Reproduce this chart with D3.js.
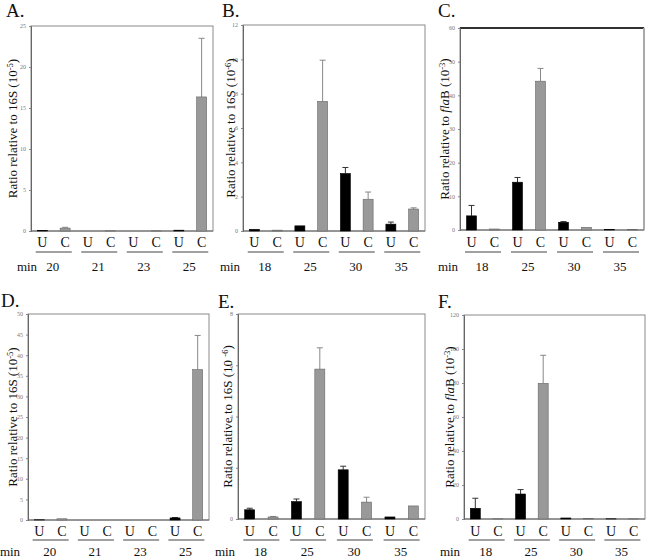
<!DOCTYPE html>
<html><head><meta charset="utf-8">
<script src="https://cdn.jsdelivr.net/npm/d3@7"></script>
<style>
html,body{margin:0;padding:0;background:#fff;}
svg text{font-family:"Liberation Serif","Times New Roman",serif !important;}
</style></head>
<body>
<svg id="chart" width="648" height="558"></svg>
<script>
// ---------- DATA ----------
const panelLetters = ["A.", "B.", "C.", "D.", "E.", "F."];
const groupsA = ["20", "21", "23", "25"];
const groupsB = ["18", "25", "30", "35"];
const barKinds = ["U", "C"];

const yTitlesMain = ["Ratio relative to 16S (10", "Ratio relative to 16S (10", "Ratio relative to ", "Ratio relative to 16S (10", "Ratio relative to 16S (10 ", "Ratio relative to "];
const yTitlesExp = ["-5", "-6", "-3", "-5", "-6", "-3"];

const yMax = [25, 12, 60, 50, 8, 120];
const yStep = [5, 2, 10, 5, 2, 20];

const uA = [0.05, 0.0, 0.0, 0.1],   uErrA = [null, null, null, null];
const cA = [0.35, 0.02, 0.02, 16.35], cErrA = [0.45, null, null, 23.5];
const uB = [0.1, 0.3, 3.35, 0.4],   uErrB = [null, null, 3.7, 0.52];
const cB = [0.05, 7.55, 1.85, 1.28], cErrB = [null, 9.95, 2.27, 1.35];
const uC = [4.2, 14.2, 2.3, 0.2],   uErrC = [7.3, 15.6, 2.5, null];
const cC = [0.3, 44.2, 0.8, 0.2],   cErrC = [null, 48.0, null, null];
const uD = [0.05, 0.0, 0.0, 0.5],   uErrD = [null, null, null, 0.6];
const cD = [0.3, 0.0, 0.0, 36.5],   cErrD = [null, null, null, 44.8];
const uE = [0.36, 0.68, 1.92, 0.08], uErrE = [0.42, 0.78, 2.06, null];
const cE = [0.08, 5.85, 0.66, 0.51], cErrE = [0.1, 6.68, 0.85, null];
const uF = [6.3, 14.7, 0.6, 0.1],   uErrF = [12.2, 17.3, null, null];
const cF = [0.1, 79.8, 0.3, 0.1],   cErrF = [null, 96.3, null, null];

// ---------- LAYOUT ----------
const layout = [
  {l: 31,  r: 213, t: 26,  b: 231, lx: 6,   ly: 17,  tx: 13,  mx: 27,  groups: groupsA, u: uA, ue: uErrA, c: cA, ce: cErrA, row: 0},
  {l: 243, r: 425, t: 25,  b: 231, lx: 222, ly: 17,  tx: 231, mx: 230, groups: groupsB, u: uB, ue: uErrB, c: cB, ce: cErrB, row: 0},
  {l: 460, r: 644, t: 28,  b: 230, lx: 438, ly: 17,  tx: 445, mx: 448, groups: groupsB, u: uC, ue: uErrC, c: cC, ce: cErrC, row: 0, fla: true, topBlack: true},
  {l: 28,  r: 209, t: 314, b: 520, lx: 1,   ly: 307, tx: 13,  mx: 10,  groups: groupsA, u: uD, ue: uErrD, c: cD, ce: cErrD, row: 1},
  {l: 238, r: 425, t: 314, b: 519, lx: 218, ly: 308, tx: 228, mx: 225, groups: groupsB, u: uE, ue: uErrE, c: cE, ce: cErrE, row: 1},
  {l: 464, r: 645, t: 315, b: 519, lx: 438, ly: 308, tx: 450, mx: 450, groups: groupsB, u: uF, ue: uErrF, c: cF, ce: cErrF, row: 1, fla: true}
];
const rowText = [{uc: 247, line: 252, min: 271}, {uc: 536, line: 540, min: 556}];

const svg = d3.select("#chart");
const SERIF = "Liberation Serif, Times New Roman, serif";

layout.forEach((p, i) => {
  const g = svg.append("g");
  const x = d3.scaleBand().domain(p.groups).range([p.l, p.r]).padding(0);
  const xi = d3.scalePoint().domain(barKinds).range([0, x.bandwidth()]).padding(0.5);
  const y = d3.scaleLinear().domain([0, yMax[i]]).range([p.b, p.t]);
  const bw = 10;

  // frame
  g.append("rect").attr("x", p.l).attr("y", p.t).attr("width", p.r - p.l).attr("height", p.b - p.t)
    .attr("fill", "none").attr("stroke", "#8a8a8a").attr("stroke-width", 1);
  if (p.topBlack) {
    g.append("line").attr("x1", p.l).attr("x2", p.r).attr("y1", p.t).attr("y2", p.t).attr("stroke", "#000").attr("stroke-width", 1.5);
    g.append("line").attr("x1", p.r).attr("x2", p.r).attr("y1", p.t).attr("y2", p.b).attr("stroke", "#aaa").attr("stroke-width", 2);
  }

  // y axis
  const ticks = d3.range(0, yMax[i] + 1e-9, yStep[i]);
  const ax = g.append("g").attr("transform", `translate(${p.l},0)`)
    .call(d3.axisLeft(y).tickValues(ticks).tickSize(2).tickPadding(3).tickFormat(d3.format("d")));
  ax.attr("font-family", SERIF);
  ax.select(".domain").attr("stroke", "#666");
  ax.selectAll(".tick line").attr("stroke", "#888");
  ax.selectAll(".tick text").attr("font-size", 6).attr("fill", "#777");
  // x baseline
  g.append("line").attr("x1", p.l).attr("x2", p.r).attr("y1", p.b).attr("y2", p.b).attr("stroke", "#666");

  // bars
  const rows = [];
  p.groups.forEach((grp, k) => {
    rows.push({grp, kind: "U", v: p.u[k], e: p.ue[k]});
    rows.push({grp, kind: "C", v: p.c[k], e: p.ce[k]});
  });
  const cx = d => x(d.grp) + xi(d.kind);
  rows.filter(d => d.e != null).forEach(d => {
    const col = d.kind === "U" ? "#333" : "#888";
    g.append("line").attr("x1", cx(d)).attr("x2", cx(d)).attr("y1", y(d.v)).attr("y2", y(d.e)).attr("stroke", col).attr("stroke-width", 1);
    g.append("line").attr("x1", cx(d) - 3).attr("x2", cx(d) + 3).attr("y1", y(d.e)).attr("y2", y(d.e)).attr("stroke", col).attr("stroke-width", 1);
  });
  g.selectAll("rect.bar").data(rows).join("rect").attr("class", "bar")
    .attr("x", d => cx(d) - bw / 2).attr("width", bw)
    .attr("y", d => y(d.v)).attr("height", d => Math.max(0, p.b - y(d.v)))
    .attr("fill", d => d.kind === "U" ? "#000" : "#999")
    .attr("stroke", d => d.kind === "U" ? "#000" : "#666").attr("stroke-width", 0.6);

  // U / C labels, underlines, min labels
  const rt = rowText[p.row];
  rows.forEach(d => {
    g.append("text").attr("x", cx(d)).attr("y", rt.uc).attr("text-anchor", "middle")
      .attr("font-family", SERIF).attr("font-size", 14).attr("fill", "#111").text(d.kind);
  });
  p.groups.forEach(grp => {
    const c0 = x(grp) + x.bandwidth() / 2;
    g.append("line").attr("x1", c0 - 18).attr("x2", c0 + 18).attr("y1", rt.line).attr("y2", rt.line)
      .attr("stroke", "#444").attr("stroke-width", 1.2);
    g.append("text").attr("x", c0 - 1).attr("y", rt.min).attr("text-anchor", "middle")
      .attr("font-family", SERIF).attr("font-size", 13).attr("fill", "#111").text(grp);
  });
  g.append("text").attr("x", p.mx).attr("y", rt.min).attr("text-anchor", "middle")
    .attr("font-family", SERIF).attr("font-size", 13).attr("fill", "#111").text("min");

  // panel letter
  g.append("text").attr("x", p.lx).attr("y", p.ly).attr("font-family", SERIF).attr("font-size", 19).attr("fill", "#111").text(panelLetters[i]);

  // y title
  const cy = (p.t + p.b) / 2;
  const t = g.append("text").attr("transform", `translate(${p.tx + 4},${cy}) rotate(-90)`)
    .attr("text-anchor", "middle").attr("font-family", SERIF).attr("font-size", 13).attr("fill", "#111");
  t.append("tspan").text(yTitlesMain[i]);
  if (p.fla) {
    t.append("tspan").attr("font-style", "italic").text("fla");
    t.append("tspan").text("B (10");
  }
  t.append("tspan").attr("dy", -4).attr("font-size", 8.5).text(yTitlesExp[i]);
  t.append("tspan").attr("dy", 4).text(")");
});
</script>
</body></html>
